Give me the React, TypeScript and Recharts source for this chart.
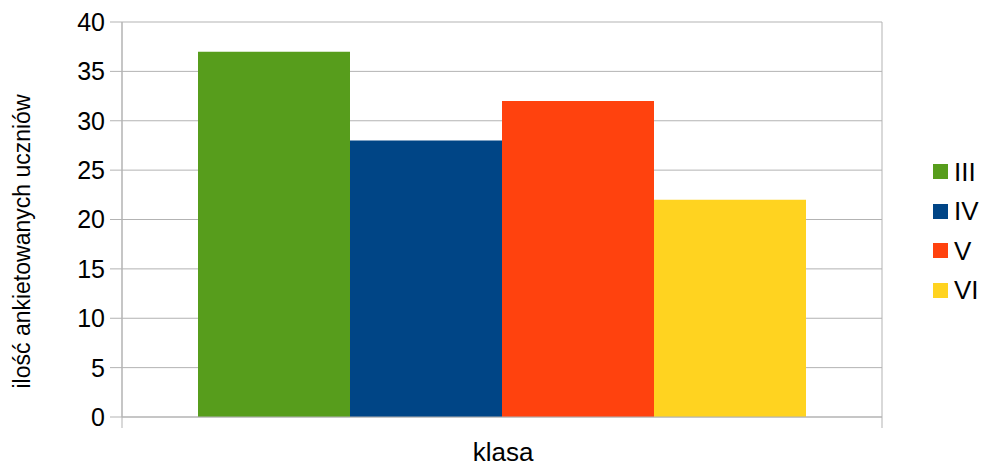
import React from "react";
import { BarChart, Bar, XAxis, YAxis, CartesianGrid } from "recharts";

const categories = ["klasa"];
const seriesNames = ["III", "IV", "V", "VI"];
const seriesValues = [37, 28, 32, 22];
const seriesColors = ["#579D1C", "#004586", "#FF420E", "#FFD320"];
const yTicks = [0, 5, 10, 15, 20, 25, 30, 35, 40];
const yAxisTitle = "ilość ankietowanych uczniów";

const data = categories.map((c) => {
  const row: Record<string, any> = { name: c };
  seriesNames.forEach((s, i) => (row[s] = seriesValues[i]));
  return row;
});

const FONT = '"Liberation Sans", Arial, sans-serif';
const GRID = "#b3b3b3";

const EdgeTick = (props: any) => {
  const { x, y, width } = props;
  const half = width / categories.length / 2;
  return (
    <g>
      <line x1={x - half} x2={x - half} y1={y} y2={y + 11} stroke={GRID} />
      <line x1={x + half} x2={x + half} y1={y} y2={y + 11} stroke={GRID} />
    </g>
  );
};

export default function App() {
  return (
    <div style={{ position: "absolute", left: 0, top: 0, width: 983, height: 465, background: "#fff" }}>
      <BarChart
        width={983}
        height={465}
        data={data}
        margin={{ top: 22, right: 101, bottom: 0, left: 0 }}
        barCategoryGap="10%"
        barGap={0}
      >
        <CartesianGrid
          stroke={GRID}
          horizontal={true}
          vertical={true}
          verticalCoordinatesGenerator={({ offset }: any) => [offset.left, offset.left + offset.width]}
        />
        <XAxis
          dataKey="name"
          type="category"
          height={48}
          tickSize={0}
          tickMargin={0}
          tickLine={false}
          axisLine={{ stroke: GRID }}
          tick={<EdgeTick />}
          label={({ viewBox }: any) => (
            <text
              x={viewBox.x + viewBox.width / 2 + 1}
              y={viewBox.y + viewBox.height - 4}
              textAnchor="middle"
              fill="#000"
              fontSize={26}
              fontFamily={FONT}
            >
              {categories[0]}
            </text>
          )}
        />
        <YAxis
          type="number"
          domain={[0, 40]}
          ticks={yTicks}
          interval={0}
          width={122}
          tickSize={12}
          tickMargin={5}
          axisLine={{ stroke: GRID }}
          tickLine={{ stroke: GRID }}
          tick={{ fill: "#000", fontSize: 25, fontFamily: FONT }}
          label={({ viewBox }: any) => {
            const cx = 30;
            const cy = viewBox.y + viewBox.height / 2 + 22;
            return (
              <text
                x={cx}
                y={cy}
                transform={`rotate(-90, ${cx}, ${cy})`}
                textAnchor="middle"
                fill="#000"
                fontSize={23}
                fontFamily={FONT}
              >
                {yAxisTitle}
              </text>
            );
          }}
        />
        {seriesNames.map((s, i) => (
          <Bar key={s} dataKey={s} fill={seriesColors[i]} isAnimationActive={false} />
        ))}
      </BarChart>
      <div style={{ position: "absolute", left: 933, top: 152, fontFamily: FONT, fontSize: 26, color: "#000" }}>
        {seriesNames.map((s, i) => (
          <div key={s} style={{ display: "flex", alignItems: "center", height: 39.5, lineHeight: "26px" }}>
            <span style={{ display: "inline-block", width: 15, height: 15, background: seriesColors[i], marginRight: 6 }} />
            <span>{s}</span>
          </div>
        ))}
      </div>
    </div>
  );
}
